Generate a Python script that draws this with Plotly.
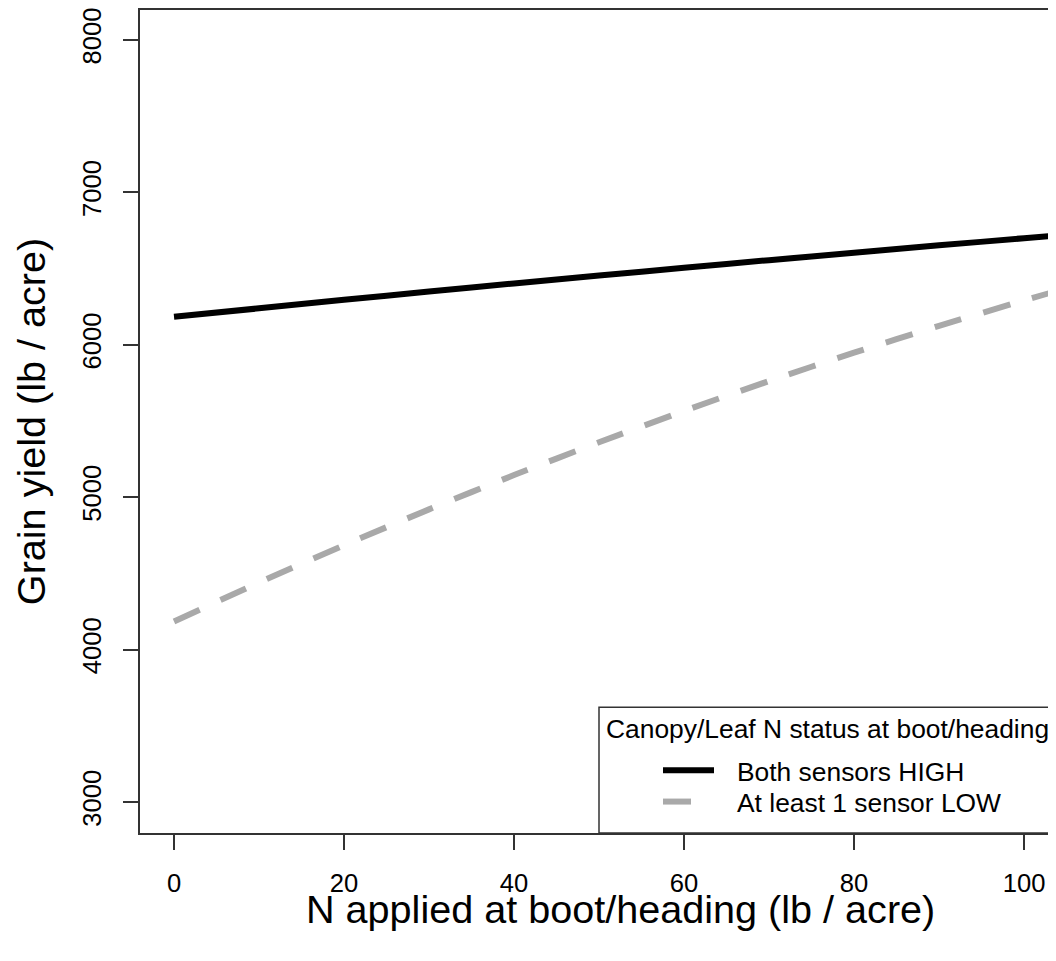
import plotly.graph_objects as go

# N rate (lb / acre) and predicted grain yield (lb / acre)
N_APPLIED = [0, 10, 20, 30, 40, 50, 60, 70, 80, 90, 100, 104]
YIELD_BOTH_HIGH = [6183, 6239, 6295, 6349, 6402, 6454, 6505, 6555, 6604, 6652, 6699, 6718]
YIELD_ONE_LOW = [4185, 4440, 4685, 4920, 5145, 5360, 5566, 5762, 5948, 6124, 6291, 6355]

SERIES_NAMES = ["Both sensors HIGH", "At least 1 sensor LOW"]
LEGEND_TITLE = "Canopy/Leaf N status at boot/heading"
X_TITLE = "N applied at boot/heading (lb / acre)"
Y_TITLE = "Grain yield (lb / acre)"

X_TICKS = [0, 20, 40, 60, 80, 100]
Y_TICKS = [3000, 4000, 5000, 6000, 7000, 8000]

FONT = "Liberation Sans, Arial, sans-serif"
AXIS_COLOR = "#333333"
GRAY = "#A9A9A9"
DASH = "28px,23px"

# the page body adds an 8px margin, so the figure is drawn 8px smaller
OFF = 8
W, H = 1056 - OFF, 961 - 2 * OFF
L, R, T = 140 - OFF, 0, 0
B = H - (833 - OFF)


def px_x(p):
    # screen pixel -> paper x
    return (p - OFF - L) / (W - L - R)


def px_y(p):
    # screen pixel -> paper y
    return (H - B - (p - OFF)) / (H - T - B)


def yield_lines() -> go.Figure:
    fig = go.Figure()
    fig.add_trace(go.Scatter(
        x=N_APPLIED, y=YIELD_BOTH_HIGH, mode="lines", name=SERIES_NAMES[0],
        line=dict(color="black", width=6, shape="spline", smoothing=0.6),
    ))
    fig.add_trace(go.Scatter(
        x=N_APPLIED, y=YIELD_ONE_LOW, mode="lines", name=SERIES_NAMES[1],
        line=dict(color=GRAY, width=6, dash=DASH, shape="spline", smoothing=0.6),
    ))

    axis_common = dict(
        showgrid=False, zeroline=False, showline=True,
        linecolor=AXIS_COLOR, linewidth=1.5,
        ticks="outside", ticklen=15, tickwidth=1.5, tickcolor=AXIS_COLOR,
        tickfont=dict(family=FONT, size=25.6, color="black"),
        ticklabelstandoff=12, ticklabeloverflow="allow",
    )
    fig.update_xaxes(**axis_common, range=[-4, 103.76], tickvals=X_TICKS, mirror=True)
    fig.update_yaxes(
        **axis_common, range=[2797, 8196], tickvals=Y_TICKS, tickangle=-90,
        title=dict(text=Y_TITLE, font=dict(family=FONT, size=39.6, color="black"),
                   standoff=20),
    )

    title_font = dict(family=FONT, size=39.6, color="black")
    fig.add_annotation(text=X_TITLE, xref="paper", yref="paper",
                       x=px_x(620), y=px_y(909), xanchor="center", yanchor="middle",
                       showarrow=False, font=title_font)

    # legend drawn R-style in the bottom right corner, running off the edge
    fig.add_shape(type="rect", xref="paper", yref="paper",
                  x0=px_x(599), x1=1.2, y0=0, y1=px_y(707),
                  line=dict(color=AXIS_COLOR, width=1.5), fillcolor="white")
    fig.add_shape(type="line", xref="paper", yref="paper",
                  x0=px_x(663), x1=px_x(714), y0=px_y(770), y1=px_y(770),
                  line=dict(color="black", width=6))
    fig.add_shape(type="line", xref="paper", yref="paper",
                  x0=px_x(663), x1=px_x(714), y0=px_y(801.5), y1=px_y(801.5),
                  line=dict(color=GRAY, width=6, dash=DASH))
    legend_font = dict(family=FONT, size=26.4, color="black")
    fig.add_annotation(text=LEGEND_TITLE, xref="paper", yref="paper",
                       x=px_x(604), y=px_y(729), xanchor="left", yanchor="middle",
                       showarrow=False, font=legend_font)
    for name, ypix in zip(SERIES_NAMES, [771.5, 802.5]):
        fig.add_annotation(text=name, xref="paper", yref="paper",
                           x=px_x(735), y=px_y(ypix), xanchor="left", yanchor="middle",
                           showarrow=False, font=legend_font)

    fig.update_layout(
        width=W, height=H, margin=dict(l=L, r=R, t=T, b=B),
        paper_bgcolor="white", plot_bgcolor="white", showlegend=False,
        font=dict(family=FONT, color="black"),
    )
    return fig


fig = yield_lines()
fig.write_html("out.html")
